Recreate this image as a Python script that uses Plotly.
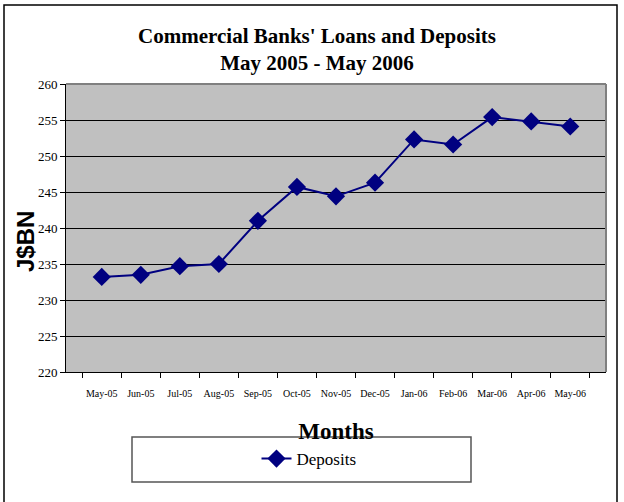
import plotly.graph_objects as go

months = ["May-05", "Jun-05", "Jul-05", "Aug-05", "Sep-05", "Oct-05", "Nov-05",
          "Dec-05", "Jan-06", "Feb-06", "Mar-06", "Apr-06", "May-06"]
deposits = [233.2, 233.5, 234.7, 235.0, 241.0, 245.7, 244.4,
            246.3, 252.3, 251.6, 255.4, 254.8, 254.1]

W, H = 624, 502
L, R, T, B = 66, 18, 84, 130
pw, ph = W - L - R, H - T - B

def px_x(x):
    return (x - L) / pw

def px_y(y):
    return (H - B - y) / ph

fig = go.Figure()
fig.add_trace(go.Scatter(
    x=months, y=deposits, name="Deposits", mode="lines+markers",
    line=dict(color="#000080", width=2),
    marker=dict(symbol="diamond", size=14, color="#000080"),
))

serif = "Liberation Serif, Times New Roman, serif"

shapes = [
    # outer chart border
    dict(type="rect", xref="paper", yref="paper",
         x0=px_x(4), x1=px_x(617), y0=px_y(5), y1=px_y(510),
         line=dict(color="black", width=1.5), layer="below"),
    # top and right plot border (gray)
    dict(type="line", xref="paper", yref="paper", x0=0, x1=1, y0=1, y1=1,
         line=dict(color="#808080", width=2), layer="above"),
    dict(type="line", xref="paper", yref="paper", x0=1, x1=1, y0=0, y1=1,
         line=dict(color="#808080", width=2), layer="above"),
    # legend box
    dict(type="rect", xref="paper", yref="paper",
         x0=px_x(132), x1=px_x(471), y0=px_y(437), y1=px_y(482),
         line=dict(color="#555555", width=1.5), fillcolor="white", layer="above"),
]

annotations = [
    dict(text="<b>J$BN</b>", textangle=-90, xref="paper", yref="paper",
         x=px_x(25), y=px_y(242), xanchor="center", yanchor="middle",
         showarrow=False,
         font=dict(family="Liberation Sans, Arial, sans-serif", size=24, color="black")),
]

fig.update_layout(
    width=W, height=H,
    margin=dict(l=L, r=R, t=T, b=B),
    paper_bgcolor="white",
    plot_bgcolor="#C0C0C0",
    title=dict(
        text="Commercial Banks' Loans and Deposits<br>May 2005 - May 2006",
        font=dict(family=serif, size=21, color="black", weight="bold"),
        x=0.508, xanchor="center", xref="container",
        y=1 - 43 / H, yanchor="top", yref="container",
    ),
    xaxis=dict(
        type="category",
        showline=True, linecolor="black", linewidth=1,
        showgrid=False,
        ticks="outside", tickson="boundaries", ticklen=5, tickcolor="black",
        tickangle=0, ticklabelstandoff=12,
        tickfont=dict(family=serif, size=10, color="black"),
        title=dict(text="Months", standoff=24,
                   font=dict(family=serif, size=23, color="black", weight="bold")),
        zeroline=False,
    ),
    yaxis=dict(
        range=[220, 260], dtick=5,
        showline=True, linecolor="black", linewidth=1,
        showgrid=True, gridcolor="black", gridwidth=1,
        ticks="outside", ticklen=5, tickcolor="black",
        tickfont=dict(family=serif, size=13, color="black"),
        zeroline=False,
    ),
    showlegend=True,
    legend=dict(
        x=px_x(309), xanchor="center", y=px_y(459), yanchor="middle",
        xref="paper", yref="paper",
        bgcolor="rgba(0,0,0,0)", borderwidth=0,
        font=dict(family=serif, size=17, color="black"),
    ),
    shapes=shapes,
    annotations=annotations,
)

fig.write_html("out.html")
